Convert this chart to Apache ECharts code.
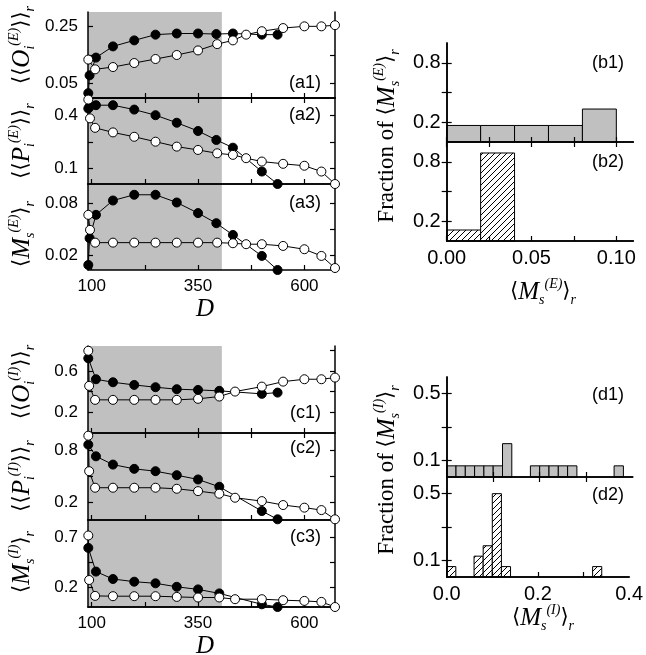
<!DOCTYPE html>
<html><head><meta charset="utf-8">
<script src="https://cdn.jsdelivr.net/npm/echarts@6/dist/echarts.min.js"></script>
<style>html,body{margin:0;padding:0;background:#fff}#c{width:646px;height:655px}</style>
</head><body><div id="c"></div><script>
// ---------------- data ----------------
// top block (E): D values
const D_E_filled = [92, 95, 110, 150, 200, 250, 300, 350, 393, 432, 500, 537];
const D_E_open   = [92, 96, 108, 150, 200, 250, 300, 350, 395, 432, 463, 500, 550, 600, 640, 672];
// (a1) <<O_i^(E)>>_r
const a1_filled = [0.017, 0.079, 0.141, 0.180, 0.201, 0.221, 0.225, 0.225, 0.223, 0.225, 0.221, 0.221];
const a1_open   = [0.134, null, 0.100, 0.108, 0.122, 0.136, 0.150, 0.166, 0.188, 0.201, 0.221, 0.233, 0.244, 0.250, 0.250, 0.254];
// (a2) <<P_i^(E)>>_r
const a2_filled = [0.440, 0.450, 0.459, 0.459, 0.434, 0.402, 0.359, 0.312, 0.261, 0.217, 0.081, 0.010];
const a2_open   = [0.491, 0.384, 0.330, 0.304, 0.279, 0.251, 0.223, 0.204, 0.185, 0.176, 0.157, 0.138, 0.125, 0.114, 0.081, 0.010];
// (a3) <M_s^(E)>_r
const a3_filled = [0.0088, 0.0396, 0.0665, 0.0830, 0.0896, 0.0896, 0.0807, 0.0685, 0.0569, 0.0434, 0.0192, 0.0030];
const a3_open   = [0.0665, 0.0492, 0.0345, 0.0345, 0.0345, 0.0345, 0.0345, 0.0345, 0.0345, 0.0338, 0.0327, 0.0327, 0.0307, 0.0269, 0.0192, 0.0053];

// bottom block (I)
const D_I_filled = [92, 110, 150, 200, 250, 300, 350, 400, 500, 537];
const D_I_open   = [92, 94, 108, 150, 200, 250, 300, 350, 400, 437, 500, 550, 600, 640, 672];
const c1_filled = [0.721, 0.519, 0.490, 0.464, 0.442, 0.423, 0.416, 0.407, 0.378, 0.390];
const c1_open   = [0.794, 0.455, 0.320, 0.320, 0.320, 0.320, 0.320, 0.330, 0.352, 0.400, 0.448, 0.496, 0.519, 0.519, 0.535];
const c2_filled = [0.866, 0.732, 0.637, 0.588, 0.561, 0.515, 0.466, 0.382, 0.103, 0.008];
const c2_open   = [0.969, 0.561, 0.371, 0.371, 0.371, 0.371, 0.359, 0.332, 0.302, 0.256, 0.217, 0.172, 0.142, 0.114, 0.008];
const c3_filled = [0.591, 0.354, 0.280, 0.253, 0.237, 0.202, 0.176, 0.136, 0.027, 0.0];
const c3_open   = [0.715, 0.270, 0.111, 0.108, 0.108, 0.108, 0.101, 0.095, 0.095, 0.078, 0.078, 0.068, 0.061, 0.051, 0.0];

// D axis
const D_range  = [91.3, 672];
const D_ticks  = [100, 225, 350, 475, 600];
const D_labels = [100, 350, 600];
const shadedD  = [91.3, 406];

// histograms (bin start, fraction), bin width 0.02
const binWidth = 0.02;
const b1_start = [0, 0.02, 0.04, 0.06, 0.08];
const b1_frac  = [0.167, 0.167, 0.167, 0.167, 0.333];
const b2_start = [0, 0.02];
const b2_frac  = [0.111, 0.889];
const d1_start = [0, 0.02, 0.04, 0.06, 0.08, 0.10, 0.12, 0.18, 0.20, 0.22, 0.24, 0.26, 0.36];
const d1_frac  = [0.067, 0.067, 0.067, 0.067, 0.067, 0.067, 0.2, 0.067, 0.067, 0.067, 0.067, 0.067, 0.067];
const d2_start = [0, 0.06, 0.08, 0.10, 0.12, 0.32];
const d2_frac  = [0.0625, 0.125, 0.1875, 0.5, 0.0625, 0.0625];

// ---------------- chart ----------------
function hatch() {
  const c = document.createElement('canvas'); c.width = 6; c.height = 6;
  const g = c.getContext('2d');
  g.fillStyle = '#fff'; g.fillRect(0, 0, 6, 6);
  g.strokeStyle = '#000'; g.lineWidth = 1;
  g.beginPath();
  g.moveTo(0, 6); g.lineTo(6, 0);
  g.moveTo(-1, 1); g.lineTo(1, -1);
  g.moveTo(5, 7); g.lineTo(7, 5);
  g.stroke();
  return c;
}
const HATCH = { image: hatch(), repeat: 'repeat' };
const GRAY = '#c0c0c0';
const pairs = (xs, ys) => xs.map((x, i) => [x, ys[i]]);

const LW = 247, LL = 88, RL = 446.7, RW = 186.6;
const panels = [
  {left: LL, width: LW, top: 12,  height: 86, x: D_range, xTicks: D_ticks, xLabels: null, topTicks: true,
   y: [0, 0.30], yTicks: [0.05, 0.15, 0.25], yLabels: [0.05, 0.25],
   lines: [[D_E_filled, a1_filled], [D_E_open, a1_open]]},
  {left: LL, width: LW, top: 98,  height: 86, x: D_range, xTicks: D_ticks, xLabels: null, topTicks: false,
   y: [0.01, 0.5], yTicks: [0.1, 0.25, 0.4], yLabels: [0.1, 0.4],
   lines: [[D_E_filled, a2_filled], [D_E_open, a2_open]]},
  {left: LL, width: LW, top: 184, height: 86, x: D_range, xTicks: D_ticks, xLabels: D_labels, topTicks: false,
   y: [0.003, 0.102], yTicks: [0.02, 0.05, 0.08], yLabels: [0.02, 0.08],
   lines: [[D_E_filled, a3_filled], [D_E_open, a3_open]]},
  {left: LL, width: LW, top: 346, height: 87, x: D_range, xTicks: D_ticks, xLabels: null, topTicks: true,
   y: [0, 0.84], yTicks: [0.2, 0.4, 0.6, 0.8], yLabels: [0.2, 0.6],
   lines: [[D_I_filled, c1_filled], [D_I_open, c1_open]]},
  {left: LL, width: LW, top: 433, height: 87, x: D_range, xTicks: D_ticks, xLabels: null, topTicks: false,
   y: [0, 1.0], yTicks: [0.2, 0.5, 0.8], yLabels: [0.2, 0.8],
   lines: [[D_I_filled, c2_filled], [D_I_open, c2_open]]},
  {left: LL, width: LW, top: 520, height: 87, x: D_range, xTicks: D_ticks, xLabels: D_labels, topTicks: false,
   y: [0, 0.87], yTicks: [0.2, 0.45, 0.7], yLabels: [0.2, 0.7],
   lines: [[D_I_filled, c3_filled], [D_I_open, c3_open]]},
  {left: RL, width: RW, top: 43, height: 99, x: [0, 0.11], xTicks: [0, 0.025, 0.05, 0.075, 0.1], xLabels: null, topTicks: true,
   y: [0, 1.0], yTicks: [0.2, 0.5, 0.8], yLabels: [0.2, 0.8], right: true,
   hist: [b1_start, b1_frac, GRAY]},
  {left: RL, width: RW, top: 142, height: 99, x: [0, 0.11], xTicks: [0, 0.025, 0.05, 0.075, 0.1], xLabels: [0, 0.05, 0.1], xFmt: v => Number(v).toFixed(2), topTicks: false,
   y: [0, 1.0], yTicks: [0.2, 0.5, 0.8], yLabels: [0.2, 0.8], right: true,
   hist: [b2_start, b2_frac, HATCH]},
  {left: RL, width: 186, top: 377, height: 100, x: [0, 0.4], xTicks: [0.1, 0.2, 0.3], xLabels: null, topTicks: true,
   y: [0, 0.6], yTicks: [0.1, 0.3, 0.5], yLabels: [0.1, 0.5], right: true,
   hist: [d1_start, d1_frac, GRAY]},
  {left: RL, width: 186, top: 477, height: 100, x: [0, 0.4], xTicks: [0.1, 0.2, 0.3], xLabels: [0, 0.2, 0.4], xFmt: v => Number(v).toFixed(1), topTicks: false,
   y: [0, 0.6], yTicks: [0.1, 0.3, 0.5], yLabels: [0.1, 0.5], right: true,
   hist: [d2_start, d2_frac, HATCH]}
];

const grid = [], xAxis = [], yAxis = [], series = [];
const axLine = {show: true, lineStyle: {color: '#000', width: 1.5}};
const tickStyle = {color: '#000', width: 1.2};
panels.forEach((p, k) => {
  const fs = p.right ? 20 : 17;
  grid.push({left: p.left, width: p.width, top: p.top, height: p.height, show: false});
  const cx = {type: 'value', gridIndex: k, min: p.x[0], max: p.x[1], splitLine: {show: false}, axisLine: axLine, z: 5};
  xAxis.push(Object.assign({}, cx, {position: 'bottom',
    axisTick: {show: true, inside: true, length: 5, customValues: p.xTicks, lineStyle: tickStyle},
    axisLabel: p.xLabels ? {show: true, customValues: p.xLabels, margin: p.right ? 7 : 8, color: '#000', fontFamily: 'Liberation Sans', fontSize: fs, formatter: p.xFmt} : {show: false}}));
  xAxis.push(Object.assign({}, cx, {position: 'top',
    axisTick: {show: p.topTicks, inside: true, length: 5, customValues: p.xTicks, lineStyle: tickStyle},
    axisLabel: {show: false}}));
  const cy = {type: 'value', gridIndex: k, min: p.y[0], max: p.y[1], splitLine: {show: false}, axisLine: axLine, z: 5};
  yAxis.push(Object.assign({}, cy, {position: 'left',
    axisTick: {show: true, inside: true, length: 5, customValues: p.yTicks, lineStyle: tickStyle},
    axisLabel: {show: true, customValues: p.yLabels, margin: p.right ? 6 : 10, color: '#000', fontFamily: 'Liberation Sans', fontSize: fs}}));
  yAxis.push(Object.assign({}, cy, {position: 'right',
    axisTick: {show: true, inside: true, length: 5, customValues: p.yTicks, lineStyle: tickStyle},
    axisLabel: {show: false}}));
  const xi = 2 * k, yi = 2 * k;
  if (p.lines) {
    series.push({type: 'line', xAxisIndex: xi, yAxisIndex: yi, data: [], z: 1, silent: true,
      markArea: {silent: true, itemStyle: {color: GRAY}, data: [[{xAxis: shadedD[0]}, {xAxis: shadedD[1]}]]}});
    p.lines.forEach(([xs, ys], j) => {
      series.push({type: 'line', xAxisIndex: xi, yAxisIndex: yi, data: pairs(xs, ys),
        symbol: 'circle', symbolSize: 9, showSymbol: true, connectNulls: true, clip: false,
        lineStyle: {color: '#000', width: 1}, z: 6 + j,
        itemStyle: {color: j === 0 ? '#000' : '#fff', borderColor: '#000', borderWidth: 1},
        emphasis: {disabled: true}, silent: true});
    });
  }
  if (p.hist) {
    const [starts, fr, fill] = p.hist;
    series.push({type: 'custom', xAxisIndex: xi, yAxisIndex: yi, z: 3, silent: true, clip: false,
      data: starts.map((s, i) => [s, s + binWidth, fr[i]]),
      encode: {x: [0, 1], y: 2},
      renderItem: (params, api) => {
        const a = api.coord([api.value(0), api.value(2)]);
        const b = api.coord([api.value(1), 0]);
        return {type: 'rect', shape: {x: a[0], y: a[1], width: b[0] - a[0], height: b[1] - a[1]},
          style: {fill: fill, stroke: '#000', lineWidth: 1}};
      }});
  }
});

// titles
const rich = {
  br: {fontFamily: 'DejaVu Sans', fontSize: 21, lineHeight: 30, fill: '#000'},
  it: {fontFamily: 'Liberation Serif', fontStyle: 'italic', fontSize: 25, lineHeight: 30, fill: '#000'},
  rm: {fontFamily: 'Liberation Serif', fontSize: 23, lineHeight: 30, fill: '#000'},
  sub: {fontFamily: 'Liberation Serif', fontStyle: 'italic', fontSize: 14, lineHeight: 12, verticalAlign: 'bottom', fill: '#000'},
  sup: {fontFamily: 'Liberation Serif', fontStyle: 'italic', fontSize: 14, lineHeight: 12, verticalAlign: 'top', fill: '#000'}
};
function qty(letter, sub, sup, dbl) {
  const o = dbl ? '⟨⟨' : '⟨', c = dbl ? '⟩⟩' : '⟩';
  return `{br|${o}}{it|${letter}}{sub|${sub}}{sup|${sup}}{br|${c}}{sub|r}`;
}
function vtext(x, y, text) {
  return {type: 'text', x: x, y: y, rotation: Math.PI / 2, silent: true, z: 10,
    style: {text: text, rich: rich, align: 'center', verticalAlign: 'middle'}};
}
function htext(x, y, text) {
  return {type: 'text', x: x, y: y, silent: true, z: 10,
    style: {text: text, rich: rich, align: 'center', verticalAlign: 'middle'}};
}
function tag(x, y, t) {
  return {type: 'text', x: x, y: y, silent: true, z: 10,
    style: {text: t, fontFamily: 'Liberation Sans', fontSize: 18, fill: '#000', align: 'right', verticalAlign: 'middle'}};
}
const graphic = [
  vtext(22, 45, qty('O', 'i', '(E)', true)),
  vtext(22, 141, qty('P', 'i', '(E)', true)),
  vtext(22, 234, qty('M', 's', '(E)', false)),
  vtext(22, 382, qty('O', 'i', '(I)', true)),
  vtext(22, 476, qty('P', 'i', '(I)', true)),
  vtext(22, 562, qty('M', 's', '(I)', false)),
  vtext(387, 136, '{rm|Fraction of }' + qty('M', 's', '(E)', false)),
  vtext(387, 470, '{rm|Fraction of }' + qty('M', 's', '(I)', false)),
  htext(543, 292, qty('M', 's', '(E)', false)),
  htext(543, 618, qty('M', 's', '(I)', false)),
  htext(205, 309, '{it|D}'),
  htext(205, 646, '{it|D}'),
  tag(321, 83, '(a1)'), tag(321, 115, '(a2)'), tag(321, 203, '(a3)'),
  tag(321, 413, '(c1)'), tag(321, 448, '(c2)'), tag(321, 537, '(c3)'),
  tag(624, 63, '(b1)'), tag(624, 162, '(b2)'),
  tag(624, 395, '(d1)'), tag(624, 495, '(d2)')
];

const chart = echarts.init(document.getElementById('c'), null, {renderer: 'canvas'});
chart.setOption({animation: false, backgroundColor: '#fff', grid, xAxis, yAxis, series, graphic});
</script></body></html>
